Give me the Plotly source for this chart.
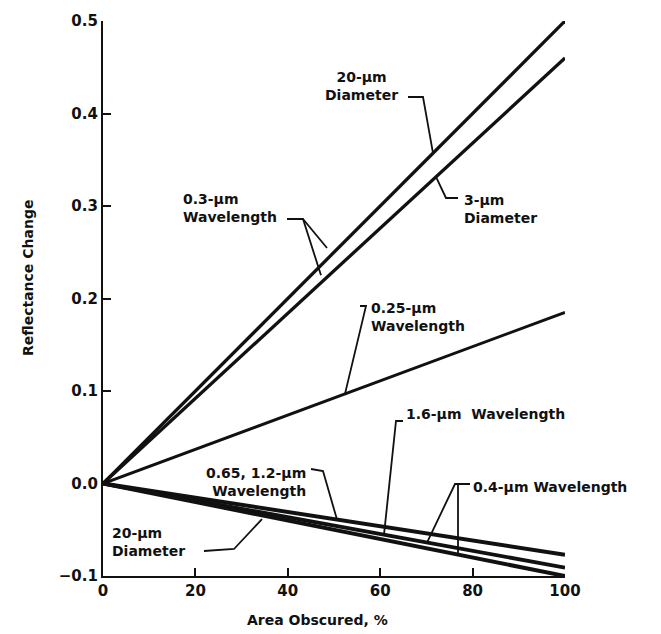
import numpy as np
import plotly.graph_objects as go

# ---------------- data ----------------
area_obscured = [0, 100]
dia20_w03 = [0.0, 0.500]      # 20-um diameter, 0.3-um wavelength
dia3_w03 = [0.0, 0.460]       # 3-um diameter, 0.3-um wavelength
w025 = [0.0, 0.185]           # 0.25-um wavelength
w065_12 = [0.0, -0.077]       # 0.65, 1.2-um wavelength
w16_w04 = [0.0, -0.091]       # 1.6-um / 0.4-um wavelength
w04_dia20 = [0.0, -0.100]     # 0.4-um wavelength, 20-um diameter

x_ticks = [0, 20, 40, 60, 80, 100]
y_ticks = [-0.1, 0.0, 0.1, 0.2, 0.3, 0.4, 0.5]
y_tick_text = ["\u22120.1", "0.0", "0.1", "0.2", "0.3", "0.4", "0.5"]

# ---------------- geometry helpers (pixel -> data) ----------------
L, R, T, B = 103, 565, 21, 576
W, H = 661, 634
XMIN, XMAX, YMIN, YMAX = 0, 100, -0.1, 0.5


def X(px):
    return XMIN + (px - L) / (R - L) * (XMAX - XMIN)


def Y(py):
    return YMAX - (py - T) / (B - T) * (YMAX - YMIN)


def on(series, xv):
    return float(np.interp(xv, area_obscured, series))


FONT = "DejaVu Sans"
black = "#111111"

fig = go.Figure()
series = [
    (dia20_w03, 3.3), (dia3_w03, 3.3), (w025, 3.0),
    (w065_12, 4.0), (w16_w04, 3.8), (w04_dia20, 4.0),
]
for s, w in series:
    fig.add_trace(go.Scatter(x=area_obscured, y=s, mode="lines",
                             line=dict(color=black, width=w),
                             cliponaxis=False, showlegend=False,
                             hoverinfo="skip"))

annots = []


def label(text, px, py, xanchor="left", size=14):
    annots.append(dict(x=X(px), y=Y(py), xref="x", yref="y", text=text,
                       showarrow=False, xanchor=xanchor, yanchor="middle",
                       align=xanchor if xanchor != "center" else "center",
                       font=dict(family=FONT, size=size, color=black, weight="bold")))


label("20-\u00b5m<br>Diameter", 361, 86, "center")
label("3-\u00b5m<br>Diameter", 462, 209, "left")
label("0.3-\u00b5m<br>Wavelength", 181, 208, "left")
label("0.25-\u00b5m<br>Wavelength", 369, 317, "left")
label("1.6-\u00b5m  Wavelength", 404, 414, "left")
label("0.65, 1.2-\u00b5m<br>Wavelength", 308, 482, "right")
label("0.4-\u00b5m Wavelength", 471, 487, "left")
label("20-\u00b5m<br>Diameter", 110, 542, "left")

shapes = []


def leader(points):
    path = "M " + " L ".join(f"{a},{b}" for a, b in points)
    shapes.append(dict(type="path", path=path, xref="x", yref="y",
                       line=dict(color=black, width=1.8)))


# leaders: pixel corners, ends on the curves
leader([(X(408), Y(97)), (X(423), Y(97)), (X(433), on(dia20_w03, X(433)))])
leader([(X(458), Y(198)), (X(446), Y(198)), (X(436), on(dia3_w03, X(436)))])
leader([(X(287), Y(219)), (X(303), Y(219)), (X(321), on(dia3_w03, X(321)) + 0.008)])
leader([(X(303), Y(219)), (X(327), Y(248))])
leader([(X(360), Y(306)), (X(366), Y(306)), (X(345), on(w025, X(345)))])
leader([(X(403), Y(421)), (X(396), Y(421)), (X(384), on(w16_w04, X(384)))])
leader([(X(311), Y(469)), (X(323), Y(471)), (X(337), on(w065_12, X(337)))])
leader([(X(470), Y(484)), (X(455), Y(484)), (X(427), on(w16_w04, X(427)))])
leader([(X(458), Y(484)), (X(458), on(w04_dia20, X(458)))])
leader([(X(204), Y(551)), (X(234), Y(549)), (X(262), on(w04_dia20, X(262)) - 0.004)])

# axis titles
annots.append(dict(x=(28 - L) / (R - L), y=(B - 278) / (B - T), xref="paper", yref="paper",
                   xanchor="center", yanchor="middle",
                   text="Reflectance Change", textangle=-90, showarrow=False,
                   font=dict(family=FONT, size=14, color=black, weight="bold")))
annots.append(dict(x=(317 - L) / (R - L), y=(B - 620) / (B - T), xref="paper", yref="paper",
                   xanchor="center", yanchor="middle",
                   text="Area Obscured, %", showarrow=False,
                   font=dict(family=FONT, size=14, color=black, weight="bold")))

axis_common = dict(showgrid=False, zeroline=False, showline=True, linecolor=black,
                   linewidth=2.2, ticks="inside", ticklen=8, tickwidth=2,
                   tickcolor=black,
                   tickfont=dict(family=FONT, size=15, color=black, weight="bold"))

fig.update_layout(
    width=W, height=H,
    margin=dict(l=L, r=W - R, t=T, b=H - B),
    paper_bgcolor="white", plot_bgcolor="white",
    xaxis=dict(range=[XMIN, XMAX], tickvals=x_ticks, **axis_common),
    yaxis=dict(range=[YMIN, YMAX], tickvals=y_ticks, ticktext=y_tick_text, **axis_common),
    annotations=annots, shapes=shapes, showlegend=False,
)

fig.write_html("out.html")
